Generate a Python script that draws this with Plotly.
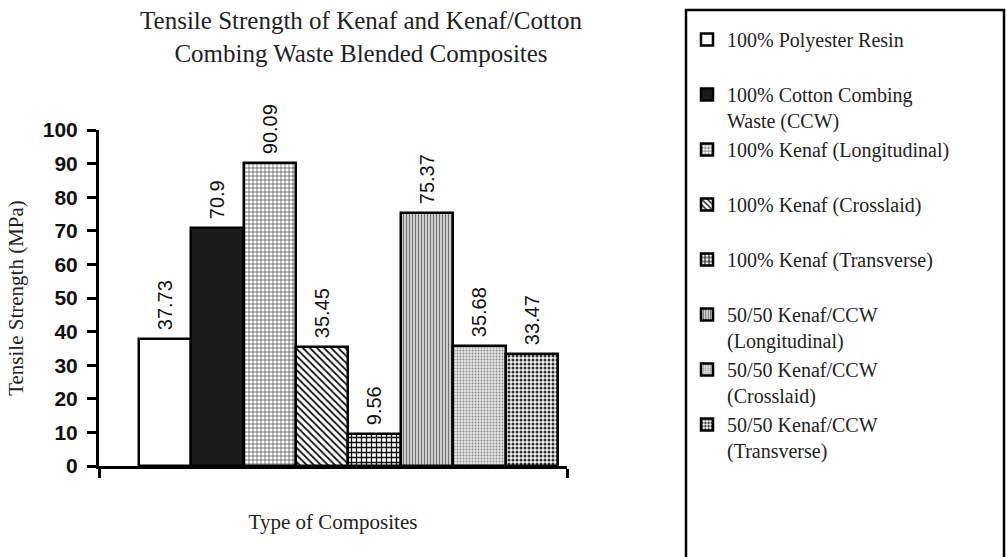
import plotly.graph_objects as go

categories = [
    "100% Polyester Resin",
    "100% Cotton Combing<br>Waste (CCW)",
    "100% Kenaf (Longitudinal)",
    "100% Kenaf (Crosslaid)",
    "100% Kenaf (Transverse)",
    "50/50 Kenaf/CCW<br>(Longitudinal)",
    "50/50 Kenaf/CCW<br>(Crosslaid)",
    "50/50 Kenaf/CCW<br>(Transverse)",
]
values = [37.73, 70.9, 90.09, 35.45, 9.56, 75.37, 35.68, 33.47]

styles = [
    dict(color="white", pattern=dict(shape="")),
    dict(color="#1c1c1c", pattern=dict(shape="")),
    dict(color="white", pattern=dict(shape="+", size=4, solidity=0.25, fgcolor="#111", bgcolor="white", fillmode="replace")),
    dict(color="white", pattern=dict(shape="\\", size=5, solidity=0.35, fgcolor="#111", bgcolor="white", fillmode="replace")),
    dict(color="white", pattern=dict(shape="+", size=5, solidity=0.45, fgcolor="#111", bgcolor="white", fillmode="replace")),
    dict(color="#c8c8c8", pattern=dict(shape="|", size=3, solidity=0.35, fgcolor="#707070", bgcolor="#cdcdcd", fillmode="replace")),
    dict(color="#dcdcdc", pattern=dict(shape=".", size=3, solidity=0.3, fgcolor="#8a8a8a", bgcolor="#e4e4e4", fillmode="replace")),
    dict(color="white", pattern=dict(shape=".", size=4, solidity=0.45, fgcolor="#333", bgcolor="#f0f0f0", fillmode="replace")),
]

serif = "Liberation Serif, Times New Roman, serif"
sans = "Liberation Sans, Arial, sans-serif"

fig = go.Figure()
for i, (name, v, st) in enumerate(zip(categories, values, styles)):
    label = name if "<br>" in name else name + "<br>\u00a0"
    fig.add_trace(go.Bar(
        x=[i], y=[v], name=label,
        marker=dict(color=st["color"], pattern=st["pattern"], line=dict(color="black", width=2.5)),
        text=["\u00a0" + str(v)], textposition="outside", textangle=-90,
        textfont=dict(family=sans, size=20, color="#111"),
        constraintext="none", cliponaxis=False,
    ))

L, R, T, B = 99, 567, 130, 466
W, H = 1007, 557
xr = [-1.26, 7.67]

fig.update_layout(
    width=W, height=H,
    margin=dict(l=L, r=W - R, t=T, b=H - B, autoexpand=False),
    plot_bgcolor="white", paper_bgcolor="white",
    bargap=0,
    showlegend=True,
    title=dict(
        text="Tensile Strength of Kenaf and Kenaf/Cotton<br>Combing Waste Blended Composites",
        font=dict(family=serif, size=25, color="#222"),
        x=361 / W, xanchor="center", y=1 - 29 / H, yanchor="middle",
    ),
    legend=dict(
        x=(687 - L) / (R - L), xanchor="left",
        y=(B - 20) / (B - T), yanchor="top",
        font=dict(family=serif, size=20, color="#222"),
        valign="top", tracegroupgap=0, borderwidth=0,
        bgcolor="rgba(0,0,0,0)", maxheight=700,
    ),
    xaxis=dict(
        range=xr, showgrid=False, zeroline=False,
        showline=True, linecolor="black", linewidth=3,
        tickvals=xr, ticktext=["", ""], ticks="outside", ticklen=9, tickwidth=3, tickcolor="black",
        title=dict(text="Type of Composites", font=dict(family=serif, size=21, color="#222"), standoff=35),
    ),
    yaxis=dict(
        range=[0, 100], dtick=10, showgrid=False, zeroline=False,
        showline=True, linecolor="black", linewidth=3,
        ticks="outside", ticklen=9, tickwidth=3, tickcolor="black", ticklabelstandoff=5,
        tickfont=dict(family=sans, size=21, color="#111", weight="bold"),
        title=dict(text="Tensile Strength (MPa)", font=dict(family=serif, size=21, color="#222"), standoff=14),
    ),
    shapes=[dict(
        type="rect", xref="paper", yref="paper",
        x0=(686 - L) / (R - L), x1=(1004 - L) / (R - L),
        y0=(B - 575) / (B - T), y1=(B - 10) / (B - T),
        line=dict(color="black", width=2.5), fillcolor="rgba(0,0,0,0)", layer="below",
    )],
)

fig.write_html("out.html", config={"displayModeBar": False},
               post_script="document.body.style.margin='0';")
